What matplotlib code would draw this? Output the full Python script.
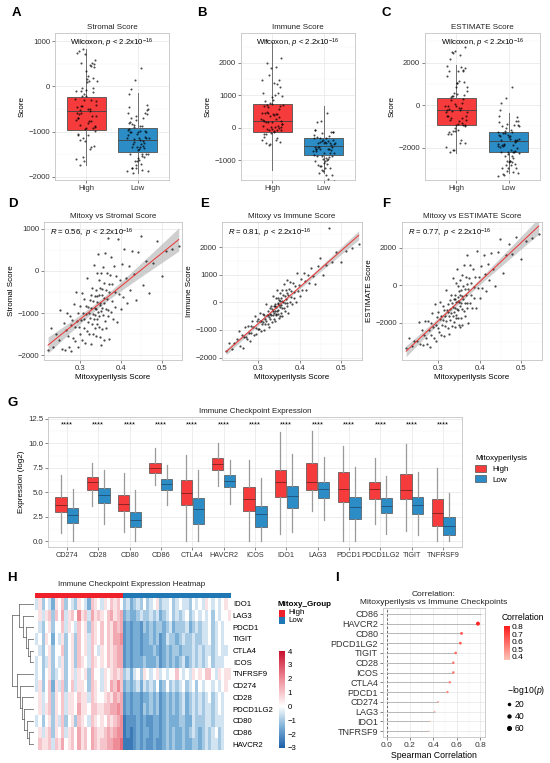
import matplotlib
matplotlib.use("Agg")
import matplotlib.pyplot as plt
import numpy as np
from matplotlib.colors import LinearSegmentedColormap, ListedColormap, Normalize
from matplotlib.cm import ScalarMappable
from matplotlib.patches import Patch, Rectangle
from matplotlib.lines import Line2D
from matplotlib.ticker import AutoMinorLocator

plt.rcParams['font.family'] = ['Liberation Sans', 'DejaVu Sans']
plt.rcParams['mathtext.fontset'] = 'custom'
plt.rcParams['mathtext.rm'] = 'Liberation Sans'
plt.rcParams['mathtext.it'] = 'Liberation Sans:italic'

# ---------------- data ----------------
# per-sample scores, ordered by mitoxyperilysis score
mitoxy_score = np.array([
    0.222, 0.228, 0.235, 0.241, 0.248, 0.252, 0.256, 0.260, 0.263, 0.266,
    0.268, 0.271, 0.273, 0.275, 0.277, 0.279, 0.281, 0.283, 0.285, 0.287,
    0.289, 0.291, 0.293, 0.295, 0.296, 0.298, 0.300, 0.301, 0.303, 0.304,
    0.306, 0.307, 0.309, 0.310, 0.311, 0.313, 0.314, 0.315, 0.317, 0.318,
    0.319, 0.320, 0.322, 0.323, 0.324, 0.325, 0.326, 0.327, 0.328, 0.329,
    0.330, 0.331, 0.332, 0.333, 0.334, 0.335, 0.336, 0.337, 0.337, 0.338,
    0.339, 0.340, 0.340, 0.341, 0.342, 0.342, 0.343, 0.343, 0.344, 0.344,
    0.346, 0.346, 0.347, 0.347, 0.348, 0.349, 0.349, 0.350, 0.351, 0.352,
    0.352, 0.353, 0.354, 0.355, 0.355, 0.356, 0.357, 0.358, 0.358, 0.359,
    0.360, 0.361, 0.362, 0.363, 0.364, 0.365, 0.366, 0.367, 0.368, 0.368,
    0.369, 0.370, 0.371, 0.372, 0.373, 0.375, 0.376, 0.378, 0.379, 0.381,
    0.383, 0.385, 0.387, 0.389, 0.391, 0.393, 0.395, 0.398, 0.400, 0.403,
    0.406, 0.409, 0.412, 0.415, 0.419, 0.423, 0.427, 0.432, 0.437, 0.443,
    0.449, 0.455, 0.462, 0.470, 0.478, 0.488, 0.500, 0.512, 0.525, 0.542])

stromal_score = np.array([
    -1880, -1349, -1800, -1489, -1640, -933, -1855, -1227, -1870, -1395,
    -1001, -1551, -1807, -1073, -1269, -1905, -1151, -1577, -783, -1329,
    -1655, -502, -1188, -1794, -997, -1333, -819, -1492, -1168, -521,
    -1637, -1000, -1356, -660, -1143, -1709, -822, -1015, -1411, -174,
    -1217, -860, -1496, -989, -692, -1115, -1738, -581, -874, -1268,
    -411, -1014, -1487, -710, 137, -1146, -879, -1342, -582, -1045,
    -448, -1541, -901, -604, -1147, -57, -1250, -740, -963, 407,
    -579, -1329, -222, -1072, -765, -1558, -408, -802, -1745, -38,
    -938, -581, -1374, -437, -867, 90, -1053, -646, -1646, -289,
    -762, -1175, 432, -911, -454, -1347, -40, -653, -1076, 774,
    -919, -312, -1606, -499, -92, -978, 329, -707, -300, -1136,
    128, -508, -844, -130, -1217, 747, -539, -218, -904, 167,
    -612, 509, -171, -750, 128, -444, 484, -82, -697, 445,
    837, -322, 227, -518, 188, 708, -109, 474, 514, 583])

immune_score = np.array([
    -1750, -1464, -1700, -1456, -1322, -1023, -1575, -1177, -1640, -1254,
    -880, -1243, -1319, -845, -1121, -1397, -872, -1098, -674, -900,
    -1176, -501, -927, -1153, -691, -967, -593, -980, -656, -394,
    -1020, -658, -784, -422, -709, -985, -473, -611, -787, -75,
    -663, -450, -776, -464, -302, -540, -878, -216, -404, -592,
    -130, -467, -705, -243, 219, -469, -307, -595, -145, -383,
    -71, -658, -308, -146, -434, 166, -472, -172, -310, 440,
    -36, -436, 176, -274, -62, -550, 100, -88, -475, 337,
    -163, 49, -389, 173, -77, 435, -203, 59, -491, 271,
    33, -204, 658, -30, 232, -306, 456, 118, -120, 830,
    -8, 355, -383, 279, 491, 15, 727, 201, 413, -62,
    712, 386, 160, 585, 9, 1083, 407, 643, 218, 854,
    440, 1076, 763, 449, 997, 696, 1244, 955, 665, 1338,
    1610, 983, 1368, 2715, 1461, 1832, 1478, 1873, 1980, 2136])

estimate_score = np.array([
    -3350, -2813, -3250, -2945, -2962, -1956, -3150, -2404, -3200, -2649,
    -1881, -2794, -3126, -1918, -2390, -3302, -2023, -2675, -1457, -2229,
    -2831, -1003, -2115, -2947, -1688, -2300, -1412, -2472, -1824, -915,
    -2657, -1658, -2140, -1082, -1852, -2694, -1295, -1626, -2198, -249,
    -1880, -1310, -2272, -1453, -994, -1655, -2616, -797, -1278, -1860,
    -541, -1481, -2192, -953, 356, -1615, -1186, -1937, -727, -1428,
    -519, -2199, -1209, -750, -1581, 109, -1722, -912, -1273, 847,
    -615, -1765, -46, -1346, -827, -2108, -308, -890, -2220, 299,
    -1101, -532, -1763, -264, -944, 525, -1256, -587, -2137, -18,
    -729, -1379, 1090, -941, -222, -1653, 416, -535, -1196, 1604,
    -927, 43, -1989, -220, 399, -963, 1056, -506, 113, -1198,
    840, -122, -684, 455, -1208, 1830, -132, 425, -686, 1021,
    -172, 1585, 592, -301, 1125, 252, 1728, 873, -32, 1783,
    2447, 661, 1595, 2197, 1649, 2540, 1369, 2347, 2494, 2719])

# box stats (whislo, q1, med, q3, whishi) for panels A-C
score_box_stats = {
    'Stromal Score': {'High': (-1734, -967, -546, -236, 827), 'Low': (-1920, -1446, -1181, -915, -140)},
    'Immune Score': {'High': (-1300, -135, 219, 719, 2650), 'Low': (-1385, -833, -552, -312, 677)},
    'ESTIMATE Score': {'High': (-2268, -929, -252, 346, 1890), 'Low': (-3213, -2189, -1700, -1244, -378)},
}

# panel G: checkpoint expression box stats (whislo, q1, med, q3, whishi)
checkpoint_genes = ['CD274', 'CD28', 'CD80', 'CD86', 'CTLA4', 'HAVCR2', 'ICOS',
                    'IDO1', 'LAG3', 'PDCD1', 'PDCD1LG2', 'TIGIT', 'TNFRSF9']
expr_high = [(0.8, 3.0, 3.7, 4.5, 6.8), (3.6, 5.2, 6.0, 6.6, 8.0), (0.9, 3.1, 3.8, 4.7, 7.0),
             (5.7, 7.0, 7.5, 8.0, 9.5), (0.0, 3.7, 4.9, 6.3, 8.8), (5.6, 7.3, 7.9, 8.5, 10.0),
             (0.0, 3.1, 4.3, 5.5, 8.3), (0.7, 4.5, 6.0, 7.3, 11.2), (3.1, 5.2, 6.0, 8.0, 11.3),
             (0.0, 4.0, 5.3, 7.1, 9.7), (1.8, 4.3, 5.3, 6.1, 8.5), (1.05, 4.3, 5.2, 6.9, 9.9),
             (0.0, 1.5, 2.9, 4.3, 7.5)]
expr_low = [(0.0, 1.9, 2.7, 3.4, 5.3), (1.8, 3.9, 4.7, 5.4, 7.3), (0.0, 1.4, 2.2, 3.0, 5.2),
            (3.7, 5.2, 5.8, 6.4, 7.8), (0.0, 1.8, 3.3, 4.4, 7.3), (3.8, 5.5, 6.2, 6.8, 8.3),
            (0.0, 1.4, 2.8, 3.6, 6.5), (0.95, 3.4, 4.6, 5.6, 8.9), (2.15, 4.4, 5.3, 6.1, 8.6),
            (0.0, 2.3, 3.5, 4.5, 7.6), (0.7, 2.9, 3.6, 4.45, 6.7), (0.6, 2.8, 3.65, 4.5, 7.1),
            (0.0, 0.65, 1.5, 2.5, 4.95)]
signif_labels = ['****'] * 13

# panel H: z-scored expression, one char per sample block (a=-3 ... o=+4, step 0.5)
heat_genes = ['IDO1', 'LAG3', 'PDCD1', 'TIGIT', 'CTLA4', 'ICOS', 'TNFRSF9',
              'CD274', 'CD28', 'PDCD1LG2', 'CD80', 'CD86', 'HAVCR2']
heat_high = ['fhegfdhgiegfehgfdihgfhgihig',
             'ghfhieigjfhigkhifjhihgijhij',
             'gfegheggifhgfigheihgigihjij',
             'fgehgdgfhegheighfihgigihjjk',
             'gfegheggiegheighfigfhgihijj',
             'fgefhegfhegheihgfihghgihijj',
             'fgeghefgheghfhgheiggfhghihi',
             'fhegidhfiegifhhgeihgfhgjiki',
             'ghfgiehgifhhgihhfihgghihjij',
             'ghfhiehgifhhgjhhgiihhiijjkj',
             'fgeghehfiegheihgfihghgihijk',
             'ghfhiehgifhigjhigjihhijijkk',
             'gihhifihjghigjhigjihiijjkkl']
heat_low = ['efdefegefgheffgefgffegfgfhgfgfghg',
            'deddefeefefdefgefefgefgfgfgegfggh',
            'cdcddcededeedefdeeefdefeffgefgfgg',
            'cdcddcddedecdfeedefeefeeffgefgfgg',
            'cdcddcdddedcdedeedeeefefeffefgffg',
            'cdcdddedddecdededefdefefefgefffgg',
            'efdfgehgfghfgfggigfgfhghgiigfhghh',
            'dedefdfefegdegefefgefgegfggfgfghg',
            'cdcddcddedecdededefdefefefgefgfgg',
            'cdcddcededecdededefdefefeffefgfgg',
            'bcccdcdccddcdedddeeddfeeeffefffgg',
            'bcbcdcddcddcdededdedefedefefgefgg',
            'bbbcdcdccdccdededdeddeedefeffefgg']
heat_levels = 'abcdefghijklmno'
# row dendrogram: (child a, child b, height); leaves 0-12, merges numbered from 13
dendro_merges = [(4, 5, 0.15), (3, 13, 0.25), (2, 14, 0.35), (1, 15, 0.45), (0, 16, 0.62),
                 (11, 12, 0.2), (10, 18, 0.3), (9, 19, 0.4), (8, 20, 0.5), (7, 21, 0.6),
                 (6, 22, 0.72), (17, 23, 0.9)]

# panel I: Spearman correlation with mitoxyperilysis
corr_genes = ['CD86', 'HAVCR2', 'CD80', 'PDCD1LG2', 'TIGIT', 'CD28', 'ICOS',
              'CTLA4', 'PDCD1', 'CD274', 'LAG3', 'IDO1', 'TNFRSF9']
corr_values = [0.81, 0.78, 0.64, 0.63, 0.59, 0.57, 0.57, 0.54, 0.52, 0.44, 0.41, 0.37, 0.36]
corr_neglog_p = [np.inf, 72, 38, 36, 31, 29, 29, 26, 24, 15, 12, 9, 8]  # CD86 p == 0 -> not drawn

RED = '#f53b3b'
BLUE = '#2b8cc6'

W, H = 550, 763
fig = plt.figure(figsize=(W / 100, H / 100), dpi=100)


def add_ax(l, t, r, b):
    return fig.add_axes([l / W, 1 - b / H, (r - l) / W, (b - t) / H])


def letter(x, y, s):
    fig.text(x / W, 1 - y / H, s, fontsize=9.5, fontweight='bold', va='top', ha='left')


def gg_style(ax, minor_x=True, minor_y=True):
    ax.set_facecolor('white')
    for s in ax.spines.values():
        s.set_color('#c4c4c4')
        s.set_linewidth(0.6)
    if minor_x:
        ax.xaxis.set_minor_locator(AutoMinorLocator(2))
    if minor_y:
        ax.yaxis.set_minor_locator(AutoMinorLocator(2))
    ax.grid(True, which='major', color='#e6e6e6', lw=0.5)
    ax.grid(True, which='minor', color='#f3f3f3', lw=0.35)
    ax.set_axisbelow(True)
    ax.tick_params(which='major', length=2, width=0.5, color='#555555',
                   labelsize=5.6, labelcolor='#333333', pad=1.5)
    ax.tick_params(which='minor', length=0)


is_high = mitoxy_score >= np.median(mitoxy_score)
jitter = ((np.arange(len(mitoxy_score)) * 0.618034) % 1 - 0.5) * 0.42

# ---------------- A-C boxplots ----------------
box_panels = [
    ('A', 12, (55, 33, 169, 180), 'Stromal Score', stromal_score, (-2070, 1180), [1000, 0, -1000, -2000]),
    ('B', 197, (241, 33, 355, 180), 'Immune Score', immune_score, (-1615, 2920), [2000, 1000, 0, -1000]),
    ('C', 382, (425, 33, 540, 180), 'ESTIMATE Score', estimate_score, (-3530, 3400), [2000, 0, -2000]),
]
for lab, lx, rect, name, vals, ylim, yt in box_panels:
    letter(lx, 7, lab)
    ax = add_ax(*rect)
    gg_style(ax, minor_x=False)
    for pos, grp, col in [(1, 'High', RED), (2, 'Low', BLUE)]:
        lo, q1, med, q3, hi = score_box_stats[name][grp]
        ax.bxp([dict(whislo=lo, q1=q1, med=med, q3=q3, whishi=hi, fliers=[])],
               positions=[pos], widths=0.75, patch_artist=True, showcaps=False,
               showfliers=False, manage_ticks=False,
               boxprops=dict(facecolor=col, edgecolor='#505050', lw=0.6),
               medianprops=dict(color='#404040', lw=0.6),
               whiskerprops=dict(color='#707070', lw=0.7))
        mask = is_high if grp == 'High' else ~is_high
        ax.scatter(pos + jitter[mask], vals[mask], s=2.2, color='black', alpha=0.7,
                   linewidths=0, zorder=4)
    ax.set_xlim(0.4, 2.6)
    ax.set_ylim(*ylim)
    ax.set_yticks(yt)
    ax.set_xticks([1, 2])
    ax.set_xticklabels(['High', 'Low'])
    ax.set_ylabel('Score', fontsize=5.8, labelpad=2)
    ax.set_title(name, fontsize=5.8, pad=3, color='#222222')
    ax.text(0.5, 0.93, r'Wilcoxon, $p$ < 2.2x10$^{-16}$', transform=ax.transAxes,
            ha='center', va='center', fontsize=5.6, zorder=6)

# ---------------- D-F scatter with regression ----------------
scatter_panels = [
    ('D', 8, (44, 222, 182, 360), 'Mitoxy vs Stromal Score', 'Stromal Score', stromal_score,
     (-2110, 1160), [1000, 0, -1000, -2000], '0.56'),
    ('E', 200, (222, 222, 362, 360), 'Mitoxy vs Immune Score', 'Immune Score', immune_score,
     (-2090, 2920), [2000, 1000, 0, -1000, -2000], '0.81'),
    ('F', 382, (402, 222, 542, 360), 'Mitoxy vs ESTIMATE Score', 'ESTIMATE Score', estimate_score,
     (-3980, 3360), [2000, 0, -2000], '0.77'),
]
for lab, lx, rect, title, ylab, vals, ylim, yt, rtxt in scatter_panels:
    letter(lx, 198, lab)
    ax = add_ax(*rect)
    gg_style(ax)
    x = mitoxy_score
    slope, icpt = np.polyfit(x, vals, 1)
    xs = np.linspace(x.min(), x.max(), 100)
    yhat = slope * xs + icpt
    n = len(x)
    resid = vals - (slope * x + icpt)
    s_err = np.sqrt(np.sum(resid ** 2) / (n - 2))
    se = s_err * np.sqrt(1 / n + (xs - x.mean()) ** 2 / np.sum((x - x.mean()) ** 2))
    ax.fill_between(xs, yhat - 1.98 * se, yhat + 1.98 * se, color='#a8a8a8', alpha=0.55,
                    lw=0, zorder=2)
    ax.scatter(x, vals, s=2.6, color='black', alpha=0.7, linewidths=0, zorder=3)
    ax.plot(xs, yhat, color='#ee3333', lw=0.7, zorder=4)
    ax.set_xlim(0.212, 0.55)
    ax.set_ylim(*ylim)
    ax.set_xticks([0.3, 0.4, 0.5])
    ax.set_yticks(yt)
    ax.set_xlabel('Mitoxyperilysis Score', fontsize=5.8, labelpad=1.5)
    ax.set_ylabel(ylab, fontsize=5.8, labelpad=2)
    ax.set_title(title, fontsize=5.8, pad=3, color='#222222')
    ax.text(0.04, 0.92, r'$R$ = %s,  $p$ < 2.2x10$^{-16}$' % rtxt, transform=ax.transAxes,
            ha='left', va='center', fontsize=5.6, zorder=6)

# ---------------- G grouped boxplots ----------------
letter(8, 397, 'G')
axg = add_ax(48, 417, 462, 547)
gg_style(axg, minor_x=False)
idx = np.arange(len(checkpoint_genes))
for stats_list, off, col, med_col in [(expr_high, -0.1875, RED, '#7a2020'),
                                      (expr_low, 0.1875, BLUE, '#1d4f73')]:
    bx = [dict(whislo=s[0], q1=s[1], med=s[2], q3=s[3], whishi=s[4], fliers=[]) for s in stats_list]
    axg.bxp(bx, positions=idx + off, widths=0.36, patch_artist=True, showcaps=False,
            showfliers=False, manage_ticks=False,
            boxprops=dict(facecolor=col, edgecolor='#505050', lw=0.5),
            medianprops=dict(color=med_col, lw=0.6),
            whiskerprops=dict(color='#9a9a9a', lw=0.9))
for i, s in enumerate(signif_labels):
    axg.text(i, 11.9, s, ha='center', va='center', fontsize=5.5)
axg.set_xlim(-0.6, len(checkpoint_genes) - 0.4)
axg.set_ylim(-0.6, 12.7)
axg.set_yticks([0.0, 2.5, 5.0, 7.5, 10.0, 12.5])
axg.set_yticklabels(['0.0', '2.5', '5.0', '7.5', '10.0', '12.5'])
axg.set_xticks(idx)
axg.set_xticklabels(checkpoint_genes)
axg.tick_params(axis='x', labelsize=5.2)
axg.set_ylabel('Expression (log2)', fontsize=5.8, labelpad=2)
axg.set_title('Immune Checkpoint Expression', fontsize=5.8, pad=3, color='#222222')
axg.legend(handles=[Patch(facecolor=RED, edgecolor='#505050', lw=0.5),
                    Patch(facecolor=BLUE, edgecolor='#505050', lw=0.5)],
           labels=['High', 'Low'], title='Mitoxyperilysis', loc='upper left',
           bbox_to_anchor=(1.015, 0.76), frameon=False, fontsize=5.8, title_fontsize=5.8,
           handlelength=1.3, handleheight=0.9, labelspacing=0.3, alignment='left')

# ---------------- H heatmap ----------------
letter(7, 572, 'H')
heat_rows = [h + l for h, l in zip(heat_high, heat_low)]
heat_mat = np.array([[heat_levels.index(c) * 0.5 - 3 for c in row] for row in heat_rows])
n_high = len(heat_high[0])
n_cols = heat_mat.shape[1]
hm_cmap = LinearSegmentedColormap.from_list(
    'hm', [(0, '#1d5fa8'), (1.5 / 7, '#7aaed6'), (3 / 7, '#ffffff'), (5 / 7, '#ee8c98'), (1, '#c8102e')])

axh = add_ax(35, 598, 230, 750)
axh.imshow(heat_mat, aspect='auto', cmap=hm_cmap, vmin=-3, vmax=4, interpolation='nearest')
axh.set_yticks(range(len(heat_genes)))
axh.set_yticklabels(heat_genes)
axh.yaxis.tick_right()
axh.tick_params(axis='y', length=0, labelsize=5.6, pad=2)
axh.set_xticks([])
for s in axh.spines.values():
    s.set_visible(False)

axa = add_ax(35, 593, 230, 597.5)
grp_row = np.array([[0] * n_high + [1] * (n_cols - n_high)])
axa.imshow(grp_row, aspect='auto', cmap=ListedColormap(['#f0202a', '#1f78b4']),
           interpolation='nearest')
axa.set_axis_off()
fig.text(132 / W, 1 - 584 / H, 'Immune Checkpoint Expression Heatmap', ha='center',
         va='center', fontsize=5.8, color='#222222')

# dendrogram
axd = add_ax(12, 598, 34, 750)
ypos = {i: float(i) for i in range(len(heat_genes))}
hgt = {i: 0.0 for i in range(len(heat_genes))}
for k, (a, b, h) in enumerate(dendro_merges):
    for c in (a, b):
        axd.plot([hgt[c], h], [ypos[c], ypos[c]], color='#555555', lw=0.5)
    axd.plot([h, h], [ypos[a], ypos[b]], color='#555555', lw=0.5)
    new = len(heat_genes) + k
    ypos[new] = (ypos[a] + ypos[b]) / 2
    hgt[new] = h
axd.set_xlim(max(hgt.values()) * 1.02, 0)
axd.set_ylim(len(heat_genes) - 0.5, -0.5)
axd.set_axis_off()

# group legend + colorbar
fig.text(278 / W, 1 - 604 / H, 'Mitoxy_Group', fontsize=5.8, fontweight='bold', va='center')
for j, (lbl, col) in enumerate([('High', '#f0202a'), ('Low', '#1f78b4')]):
    y0 = 609.5 + j * 7.5
    fig.add_artist(Rectangle((279 / W, 1 - (y0 + 7) / H), 6 / W, 7 / H,
                             transform=fig.transFigure, facecolor=col, edgecolor='none'))
    fig.text(288 / W, 1 - (y0 + 3.5) / H, lbl, fontsize=5.8, va='center')
caxh = add_ax(279, 651, 285, 748)
cb = fig.colorbar(ScalarMappable(norm=Normalize(-3, 4), cmap=hm_cmap), cax=caxh,
                  ticks=range(-3, 5))
cb.outline.set_visible(False)
caxh.tick_params(labelsize=5.6, length=0, pad=2)

# ---------------- I lollipop ----------------
letter(335, 572, 'I')
axi = add_ax(383, 608, 485, 737)
gg_style(axi, minor_y=False)
yi = np.arange(len(corr_genes))
corr_norm = Normalize(0.36, 0.81)
corr_cmap = LinearSegmentedColormap.from_list('corr', ['#fbc4b6', '#ff1a1a'])
axi.axvline(0, color='#555555', lw=0.6, ls=(0, (3, 2)), zorder=2)
axi.hlines(yi, 0, corr_values, color='#b8b8b8', lw=0.7, zorder=3)
p_arr = np.array(corr_neglog_p, dtype=float)
ok = np.isfinite(p_arr)
axi.scatter(np.array(corr_values)[ok], yi[ok], s=0.115 * p_arr[ok],
            c=np.array(corr_values)[ok], cmap=corr_cmap, norm=corr_norm, linewidths=0, zorder=4)
axi.set_ylim(len(corr_genes) - 0.4, -0.6)
axi.set_yticks(yi)
axi.set_yticklabels(corr_genes)
axi.set_xlim(-0.03, 0.84)
axi.set_xticks([0.0, 0.2, 0.4, 0.6, 0.8])
axi.tick_params(axis='y', labelsize=6.5)
axi.tick_params(axis='x', labelsize=6)
axi.set_xlabel('Spearman Correlation', fontsize=6.3, labelpad=1.5)
axi.set_title('Correlation:\nMitoxyperilysis vs Immune Checkpoints', fontsize=6,
              pad=3, color='#222222', linespacing=1.1)

fig.text(502 / W, 1 - 618 / H, 'Correlation', fontsize=6.2, va='center')
caxi = add_ax(504, 626, 510, 660)
cbi = fig.colorbar(ScalarMappable(norm=corr_norm, cmap=corr_cmap), cax=caxi,
                   ticks=[0.4, 0.5, 0.6, 0.7, 0.8])
cbi.outline.set_visible(False)
caxi.tick_params(labelsize=6, length=0, pad=1.5)

size_handles = [Line2D([], [], ls='', marker='o', color='black',
                       markersize=np.sqrt(0.115 * v)) for v in (20, 40, 60)]
fig.legend(handles=size_handles, labels=['20', '40', '60'], title=r'$-$log10($p$)',
           loc='upper left', bbox_to_anchor=(499 / W, 1 - 676 / H), frameon=False,
           fontsize=6.2, title_fontsize=6.2, handlelength=0.6, handletextpad=0.3,
           labelspacing=0.35, alignment='left')

fig.savefig('out.png', dpi=100)
